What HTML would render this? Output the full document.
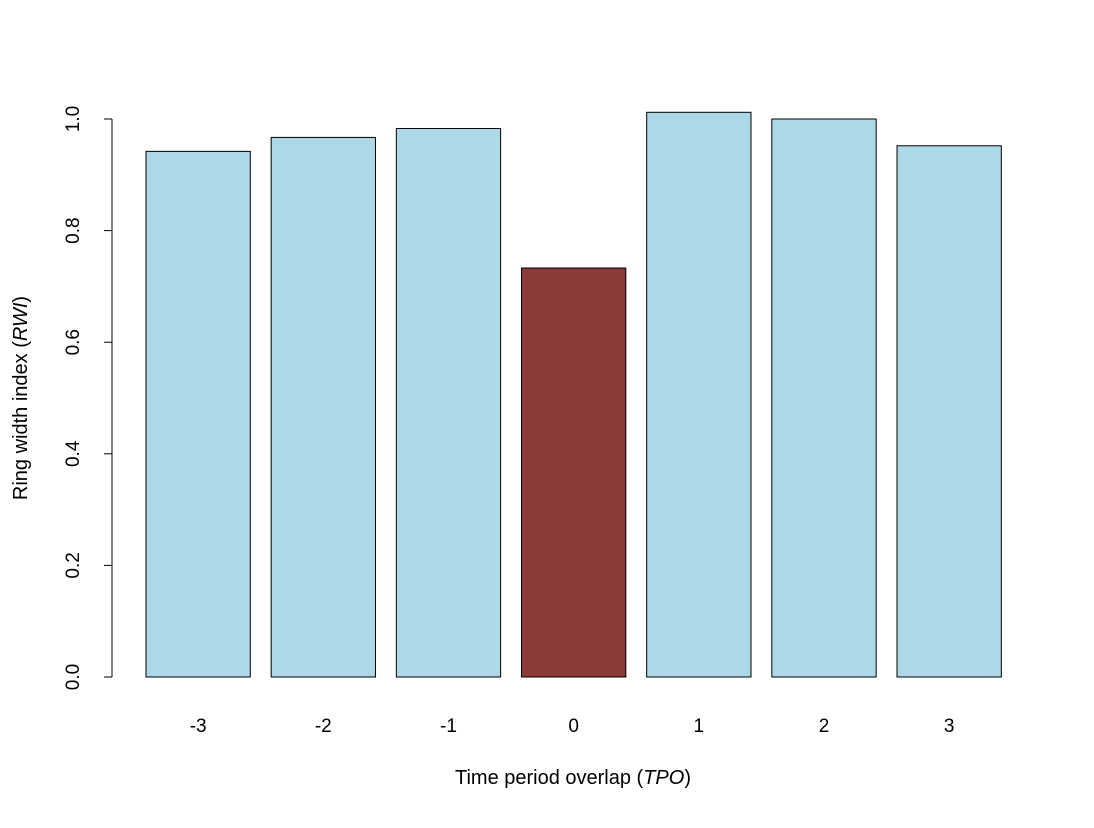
<!DOCTYPE html>
<html><head><meta charset="utf-8"><style>
body{margin:0;background:#fff}
svg text{font-family:"Liberation Sans",Arial,sans-serif;fill:#000}
</style></head><body>
<svg width="1094" height="823" viewBox="0 0 1094 823">
<g id="bars"></g>
<g id="yaxis"></g>
<g id="xlabels"></g>
<text x="27" y="398" font-size="20" text-anchor="middle" transform="rotate(-90 27 398)">Ring width index (<tspan font-style="italic">RWI</tspan>)</text>
<text x="573" y="784" font-size="20" text-anchor="middle">Time period overlap (<tspan font-style="italic">TPO</tspan>)</text>
</svg>
<script>
const categories=["-3","-2","-1","0","1","2","3"];
const values=[0.942,0.967,0.983,0.733,1.012,1.0,0.952];
const highlight=[false,false,false,true,false,false,false];
const yTicks=[0,0.2,0.4,0.6,0.8,1.0];
const yTickLabels=["0.0","0.2","0.4","0.6","0.8","1.0"];
const NS="http://www.w3.org/2000/svg";
function y(v){return 677-v*558;}
function xLeft(i){return 146+i*125.17;}
const bw=104.3;
const bars=document.getElementById('bars');
categories.forEach((c,i)=>{
  const r=document.createElementNS(NS,'rect');
  r.setAttribute('x',xLeft(i));r.setAttribute('y',y(values[i]));
  r.setAttribute('width',bw);r.setAttribute('height',y(0)-y(values[i]));
  r.setAttribute('fill',highlight[i]?'#8b3a3a':'#add8e6');
  r.setAttribute('stroke','#000');r.setAttribute('stroke-width','1');
  
  
  bars.appendChild(r);
  const t=document.createElementNS(NS,'text');
  t.setAttribute('x',xLeft(i)+bw/2);t.setAttribute('y',732);
  t.setAttribute('font-size','19');t.setAttribute('text-anchor','middle');
  t.textContent=c;
  
  
  document.getElementById('xlabels').appendChild(t);
});
const ya=document.getElementById('yaxis');
const ax=document.createElementNS(NS,'line');
ax.setAttribute('x1',112);ax.setAttribute('x2',112);ax.setAttribute('y1',y(0));ax.setAttribute('y2',y(1));
ax.setAttribute('stroke','#000');


ya.appendChild(ax);
yTicks.forEach((v,i)=>{
  const l=document.createElementNS(NS,'line');
  l.setAttribute('x1',104);l.setAttribute('x2',112);l.setAttribute('y1',y(v));l.setAttribute('y2',y(v));
  l.setAttribute('stroke','#000');
  
  
  ya.appendChild(l);
  const t=document.createElementNS(NS,'text');
  t.setAttribute('x',79);t.setAttribute('y',y(v));
  t.setAttribute('font-size','19');t.setAttribute('text-anchor','middle');
  t.setAttribute('transform','rotate(-90 79 '+y(v)+')');
  t.textContent=yTickLabels[i];
  
  
  ya.appendChild(t);
});
</script>
</body></html>
